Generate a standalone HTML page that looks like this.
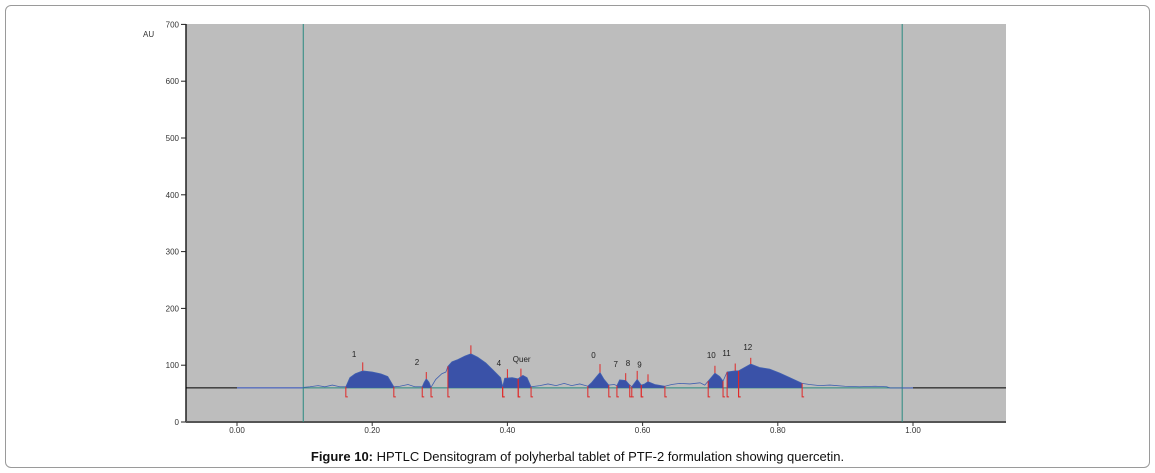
<!DOCTYPE html>
<html><head><meta charset="utf-8"><style>
body{margin:0;background:#fff;width:1155px;height:473px;overflow:hidden;font-family:"Liberation Sans",sans-serif}
#frame{position:absolute;left:5px;top:5px;width:1143px;height:461px;border:1px solid #9a9a9a;border-radius:6px}
#cap{position:absolute;left:0;width:1155px;top:449px;text-align:center;font-size:13px;color:#111}
</style></head><body>
<div id="frame"></div>
<svg id="chart" width="1155" height="473" style="position:absolute;left:0;top:0"></svg>
<div id="cap"><b>Figure 10:</b> HPTLC Densitogram of polyherbal tablet of PTF-2 formulation showing quercetin.</div>
<script>
const yTicks=[0,100,200,300,400,500,600,700];
const yTickLabels=["0","100","200","300","400","500","600","700"];
const xTicks=[0,0.2,0.4,0.6,0.8,1.0];
const xTickLabels=["0.00","0.20","0.40","0.60","0.80","1.00"];
const profRf=[0.098,0.108,0.120,0.130,0.141,0.152,0.161,0.167,0.175,0.186,0.200,0.212,0.223,0.232,0.241,0.253,0.263,0.274,0.277,0.280,0.284,0.287,0.294,0.303,0.309,0.312,0.318,0.327,0.337,0.346,0.356,0.368,0.380,0.390,0.393,0.396,0.407,0.416,0.420,0.423,0.429,0.435,0.448,0.460,0.472,0.484,0.495,0.507,0.519,0.525,0.532,0.537,0.543,0.550,0.558,0.562,0.566,0.575,0.581,0.584,0.592,0.598,0.603,0.608,0.618,0.633,0.643,0.655,0.670,0.685,0.692,0.697,0.707,0.714,0.719,0.725,0.737,0.742,0.745,0.760,0.773,0.788,0.803,0.818,0.836,0.847,0.862,0.877,0.899,0.921,0.944,0.961,0.966,0.998];
const profAU=[61,62,64,62,65,62,62,78,85,90,88,85,80,62,63,66,62,62,70,76,70,61,75,85,88,98,106,110,116,120,114,104,90,78,62,77,78,76,80,82,78,62,64,67,64,68,64,67,63,70,80,87,75,65,66,64,74,73,65,62,75,65,67,71,66,63,66,68,67,69,65,72,86,80,72,88,90,90,92,102,96,93,86,78,68,66,64,65,63,62,63,62,60,60];
const peakStart=[0.161,0.274,0.312,0.393,0.416,0.519,0.562,0.584,0.598,0.697,0.725,0.742];
const peakEnd=[0.232,0.287,0.393,0.416,0.435,0.550,0.581,0.598,0.633,0.719,0.742,0.836];
const peakRf=[0.186,0.280,0.346,0.400,0.420,0.537,0.575,0.592,0.608,0.707,0.737,0.760];
const peakTop=[105,88,135,93,94,102,86,90,84,99,103,113];
const peakLabels=["1","2","","4","Quer","0","7","8","9","10","11","12"];
const labelRf=[0.170,0.263,0.382,0.384,0.408,0.524,0.557,0.575,0.592,0.695,0.718,0.749];
const labelAU=[114,100,200,99,106,113,97,99,96,113,116,127];
const baseAU=60, startRf=0.098, endRf=0.984;

const NS="http://www.w3.org/2000/svg", svg=document.getElementById('chart');
const X=v=>237+v*676, Y=v=>422-v*0.568;
function mk(t,a,p){const e=document.createElementNS(NS,t);for(const k in a)e.setAttribute(k,a[k]);(p||svg).appendChild(e);return e;}
let e;
e=mk('rect',{x:186,y:24,width:820,height:398,fill:'#bdbdbd'});

// axes
e=mk('line',{x1:186,y1:24,x2:186,y2:422,stroke:'#222','stroke-width':1.5});

e=mk('line',{x1:186,y1:422,x2:1006,y2:422,stroke:'#555','stroke-width':2});

yTicks.forEach((v,i)=>{
 e=mk('line',{x1:181,y1:Y(v),x2:186,y2:Y(v),stroke:'#222'});
 
 e=mk('text',{x:179,y:Y(v)+3,'font-size':8,'text-anchor':'end',fill:'#333'});e.textContent=yTickLabels[i];
 
});
xTicks.forEach((v,i)=>{
 e=mk('line',{x1:X(v),y1:422,x2:X(v),y2:426,stroke:'#333'});
 
 e=mk('text',{x:X(v),y:433,'font-size':8,'text-anchor':'middle',fill:'#333'});e.textContent=xTickLabels[i];
 
});
e=mk('text',{x:143,y:37,'font-size':8,fill:'#333'});e.textContent='AU';

// baselines
e=mk('line',{x1:186,y1:Y(baseAU),x2:X(0),y2:Y(baseAU),stroke:'#000'});

e=mk('line',{x1:X(0),y1:Y(baseAU),x2:X(startRf),y2:Y(baseAU),stroke:'#3050c0'});

e=mk('line',{x1:X(startRf),y1:Y(baseAU),x2:X(endRf),y2:Y(baseAU),stroke:'#2a8a80'});

e=mk('line',{x1:X(endRf),y1:Y(baseAU),x2:X(1),y2:Y(baseAU),stroke:'#3050c0'});

e=mk('line',{x1:X(1),y1:Y(baseAU),x2:1006,y2:Y(baseAU),stroke:'#000'});

[startRf,endRf].forEach(r=>{
 e=mk('line',{x1:X(r),y1:24,x2:X(r),y2:422,stroke:'#2a8a80'});
 
});
function interp(r){for(let i=0;i<profRf.length-1;i++){if(r>=profRf[i]&&r<=profRf[i+1]){const t=(r-profRf[i])/(profRf[i+1]-profRf[i]||1);return profAU[i]+t*(profAU[i+1]-profAU[i]);}}return baseAU;}
// filled peaks
peakStart.forEach((s,i)=>{
 const en=peakEnd[i];let pts=[[X(s),Y(baseAU)],[X(s),Y(interp(s))]];
 profRf.forEach((r,j)=>{if(r>s&&r<en)pts.push([X(r),Y(profAU[j])]);});
 pts.push([X(en),Y(interp(en))],[X(en),Y(baseAU)]);
 e=mk('polygon',{points:pts.map(p=>p.join(',')).join(' '),fill:'#3a52a8'});
 
});
// profile line
e=mk('polyline',{points:profRf.map((r,j)=>X(r)+','+Y(profAU[j])).join(' '),fill:'none',stroke:'#4060b0','stroke-width':0.8});

// boundary markers
peakStart.concat(peakEnd).forEach(r=>{
 e=mk('path',{d:`M${X(r)},${Y(interp(r))}V${Y(baseAU)+9}h2`,stroke:'#e02828',fill:'none','stroke-width':1});
 
});
peakRf.forEach((r,i)=>{
 e=mk('line',{x1:X(r),y1:Y(interp(r)),x2:X(r),y2:Y(peakTop[i]),stroke:'#e02828','stroke-width':1});
 
 if(peakLabels[i]){
  e=mk('text',{x:X(labelRf[i]),y:Y(labelAU[i]),'font-size':8,fill:'#222'});e.textContent=peakLabels[i];
  
 }
});
</script>
</body></html>
